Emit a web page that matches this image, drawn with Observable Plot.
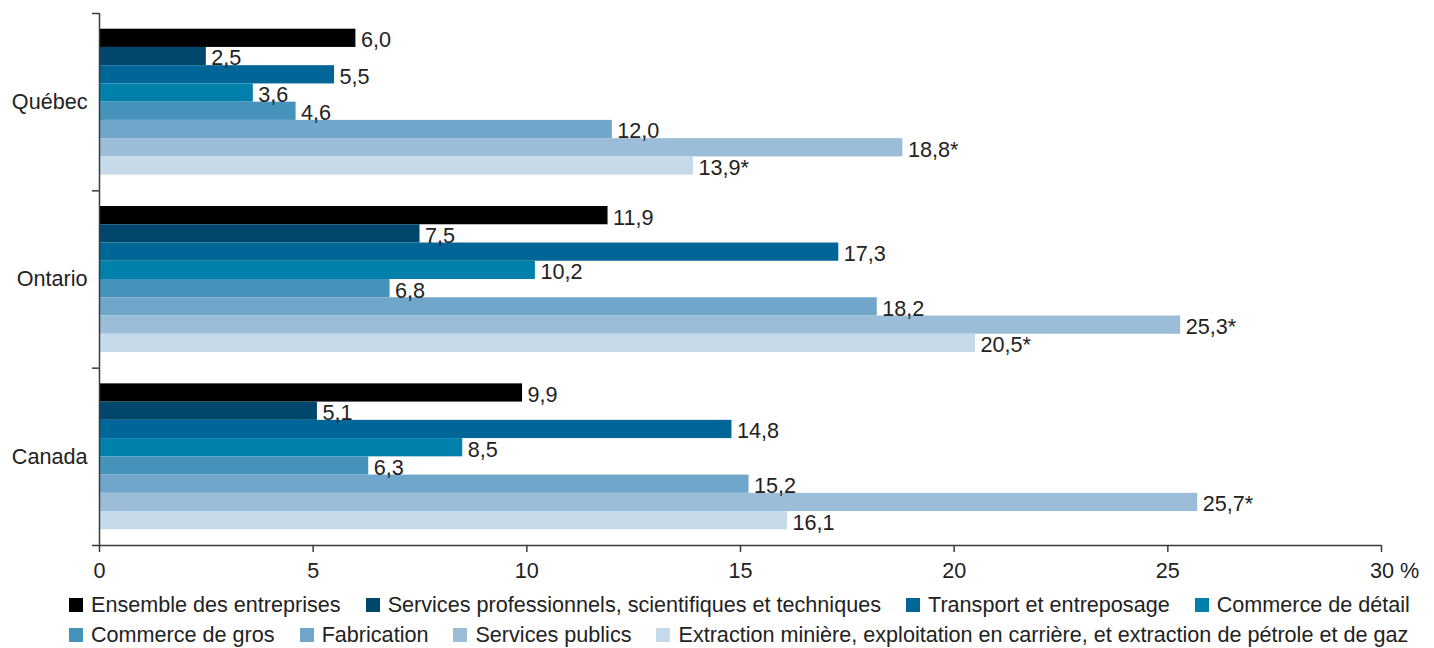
<!DOCTYPE html>
<html><head><meta charset="utf-8">
<script src="https://cdn.jsdelivr.net/npm/d3@7"></script>
<script src="https://cdn.jsdelivr.net/npm/@observablehq/plot@0.6"></script>
<style>
body{margin:0;background:#fff;font-family:"Liberation Sans",Arial,sans-serif;}
#chart{width:1434px;}
.legend-row{display:flex;gap:0 25px;padding-left:69px;height:30px;align-items:center;font-size:21.6px;color:#222;}
.item{display:flex;align-items:center;white-space:nowrap;}
.sw{width:14px;height:14px;margin-right:8px;flex:none;}
</style></head><body><div id="chart"></div>
<script>
const groups = ["Québec", "Ontario", "Canada"];
const series = [
  "Ensemble des entreprises",
  "Services professionnels, scientifiques et techniques",
  "Transport et entreposage",
  "Commerce de détail",
  "Commerce de gros",
  "Fabrication",
  "Services publics",
  "Extraction minière, exploitation en carrière, et extraction de pétrole et de gaz"
];
const colors = ["#000000", "#00476b", "#006697", "#0080ab", "#4592ba", "#6fa6c9", "#9bbdd8", "#c6daea"];
const quebec  = [6.0, 2.5, 5.5, 3.6, 4.6, 12.0, 18.8, 13.9];
const ontario = [11.9, 7.5, 17.3, 10.2, 6.8, 18.2, 25.3, 20.5];
const canada  = [9.9, 5.1, 14.8, 8.5, 6.3, 15.2, 25.7, 16.1];
const quebecFlags  = ["", "", "", "", "", "", "*", "*"];
const ontarioFlags = ["", "", "", "", "", "", "*", "*"];
const canadaFlags  = ["", "", "", "", "", "", "*", ""];
const xTicks = [0, 5, 10, 15, 20, 25, 30];
const legendRows = [[0, 1, 2, 3], [4, 5, 6, 7]];

const valuesByGroup = [quebec, ontario, canada];
const flagsByGroup = [quebecFlags, ontarioFlags, canadaFlags];
const fmt = v => v.toFixed(1).replace(".", ",");
const data = [];
groups.forEach((g, gi) => series.forEach((s, si) => {
  data.push({group: g, series: s, value: valuesByGroup[gi][si], label: fmt(valuesByGroup[gi][si]) + flagsByGroup[gi][si]});
}));

const W = 1434, H = 590, mt = 13, mb = 45, ml = 99, mr = 53;
const cellH = (H - mt - mb) / groups.length;
const plotW = W - ml - mr;
const axisColor = "#3a3a3a";
const font = '"Liberation Sans", Arial, sans-serif';
const fs = 21.6;

const chart = Plot.plot({
  width: W, height: H,
  marginTop: mt, marginBottom: mb, marginLeft: ml, marginRight: mr,
  style: {fontFamily: font, fontSize: fs + "px", color: "#222", background: "#fff"},
  x: {domain: [0, 30], axis: null},
  y: {domain: series, axis: null, paddingInner: 0, paddingOuter: 0.86, round: false},
  fy: {domain: groups, padding: 0, axis: null, round: false},
  color: {domain: series, range: colors},
  marks: [
    Plot.barX(data, {x: "value", y: "series", fy: "group", fill: "series"}),
    Plot.text(data, {x: "value", y: "series", fy: "group", text: "label", textAnchor: "start", dx: 5, dy: 2, fill: "#222", fontSize: fs}),
    Plot.ruleX([0], {stroke: axisColor, strokeWidth: 1.5}),
    Plot.ruleY(groups, {fy: d => d, y: null, dy: -cellH / 2, insetLeft: -7, insetRight: plotW, stroke: axisColor, strokeWidth: 1.5}),
    Plot.ruleY([groups[groups.length - 1]], {fy: d => d, y: null, dy: cellH / 2, insetLeft: -7, stroke: axisColor, strokeWidth: 1.5}),
    Plot.axisFy({anchor: "left", tickSize: 0, tickPadding: 12, label: null, fontSize: fs, fill: "#222"}),
    Plot.axisX({ticks: xTicks, anchor: "bottom", tickSize: 7, tickPadding: 10, label: null, stroke: axisColor, strokeWidth: 1.5, fontSize: fs, fill: "#222",
      tickFormat: d => d === 30 ? "" : String(d)}),
    Plot.axisX({ticks: [30], anchor: "bottom", tickSize: 0, tickPadding: 17, label: null, fontSize: fs, fill: "#222", dx: 13,
      tickFormat: d => `${d} %`})
  ]
});
document.getElementById("chart").appendChild(chart);

const legend = document.createElement("div");
legendRows.forEach(row => {
  const r = document.createElement("div");
  r.className = "legend-row";
  row.forEach(i => {
    const it = document.createElement("div");
    it.className = "item";
    const sw = document.createElement("span");
    sw.className = "sw";
    sw.style.background = colors[i];
    const t = document.createElement("span");
    t.textContent = series[i];
    it.append(sw, t);
    r.appendChild(it);
  });
  legend.appendChild(r);
});
document.getElementById("chart").appendChild(legend);
</script>
</body></html>
